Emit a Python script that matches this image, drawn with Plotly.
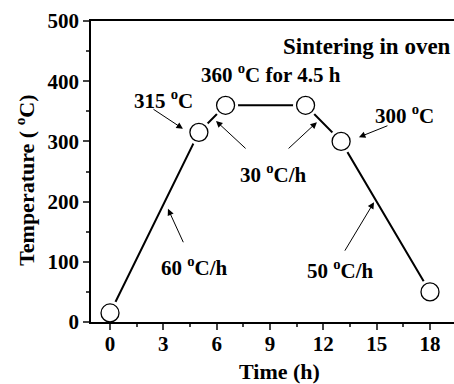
import plotly.graph_objects as go

time_h = [0, 5, 6.5, 11, 13, 18]
temp_c = [15, 315, 360, 360, 300, 50]

x_ticks = [0, 3, 6, 9, 12, 15, 18]
y_ticks = [0, 100, 200, 300, 400, 500]

FONT = "Liberation Serif"

fig = go.Figure()
fig.add_trace(go.Scatter(x=time_h, y=temp_c, mode="lines",
                         line=dict(color="black", width=2), hoverinfo="skip"))
fig.add_trace(go.Scatter(x=time_h, y=temp_c, mode="markers",
                         marker=dict(symbol="circle", size=25, color="white",
                                     line=dict(width=0)), hoverinfo="skip"))
fig.add_trace(go.Scatter(x=time_h, y=temp_c, mode="markers",
                         marker=dict(symbol="circle", size=18, color="white",
                                     line=dict(color="black", width=1.3)), hoverinfo="skip"))

# text labels: (text, x, y, size)
labels = [
    ("Sintering in oven", 14.45, 457, 23),
    ("360 <sup>o</sup>C for 4.5 h", 9.06, 412, 21),
    ("315 <sup>o</sup>C", 2.98, 369, 21),
    ("300 <sup>o</sup>C", 16.59, 345, 21),
    ("30 <sup>o</sup>C/h", 9.22, 247, 21),
    ("60 <sup>o</sup>C/h", 4.78, 93, 21),
    ("50 <sup>o</sup>C/h", 12.94, 88, 21),
]
for t, x, y, s in labels:
    fig.add_annotation(x=x, y=y, text=t, showarrow=False,
                       font=dict(family=FONT, size=s, color="black", weight="bold"))

# arrows: (tail x, tail y, head x, head y)
arrows = [
    (2.36, 355, 4.10, 321),
    (15.69, 327, 14.00, 307),
    (7.71, 286, 5.96, 334),
    (9.96, 286, 11.64, 332),
    (4.16, 130, 3.26, 188),
    (13.16, 116, 14.85, 199),
]
for ax, ay, x, y in arrows:
    fig.add_annotation(x=x, y=y, ax=ax, ay=ay, axref="x", ayref="y", text="",
                       showarrow=True, arrowhead=2, arrowsize=1.3, arrowwidth=1,
                       arrowcolor="black", standoff=0, startstandoff=0)

# axis titles
fig.add_annotation(xref="paper", yref="paper", x=-0.182, y=0.472,
                   xanchor="center", yanchor="middle",
                   text="Temperature ( <sup>o</sup>C)", textangle=-90, showarrow=False,
                   font=dict(family=FONT, size=22, color="black", weight="bold"))
fig.add_annotation(xref="paper", yref="paper", x=0.52, y=-0.163,
                   xanchor="center", yanchor="middle",
                   text="Time (h)", showarrow=False,
                   font=dict(family=FONT, size=22, color="black", weight="bold"))

tickfont = dict(family=FONT, size=21, color="black", weight="bold")
fig.update_layout(
    width=454, height=384,
    margin=dict(l=91, r=0, t=21, b=62),
    paper_bgcolor="white", plot_bgcolor="white",
    showlegend=False,
    font=dict(family=FONT, color="black"),
    xaxis=dict(range=[-1.07, 19.35], tickvals=x_ticks, ticks="outside", ticklen=6,
               tickwidth=1.5, showline=True, linewidth=1.8, linecolor="black",
               mirror=True, showgrid=False, zeroline=False, tickfont=tickfont,
               ticklabelstandoff=-4,
               minor=dict(dtick=1.5, tick0=0, ticks="outside", ticklen=3, tickwidth=1.5,
                          showgrid=False)),
    yaxis=dict(range=[0, 500], tickvals=y_ticks, ticks="outside", ticklen=6,
               tickwidth=1.5, showline=True, linewidth=1.8, linecolor="black",
               showgrid=False, zeroline=False, tickfont=tickfont,
               minor=dict(dtick=50, tick0=0, ticks="outside", ticklen=3, tickwidth=1.5,
                          showgrid=False)),
)

fig.write_html("out.html")
